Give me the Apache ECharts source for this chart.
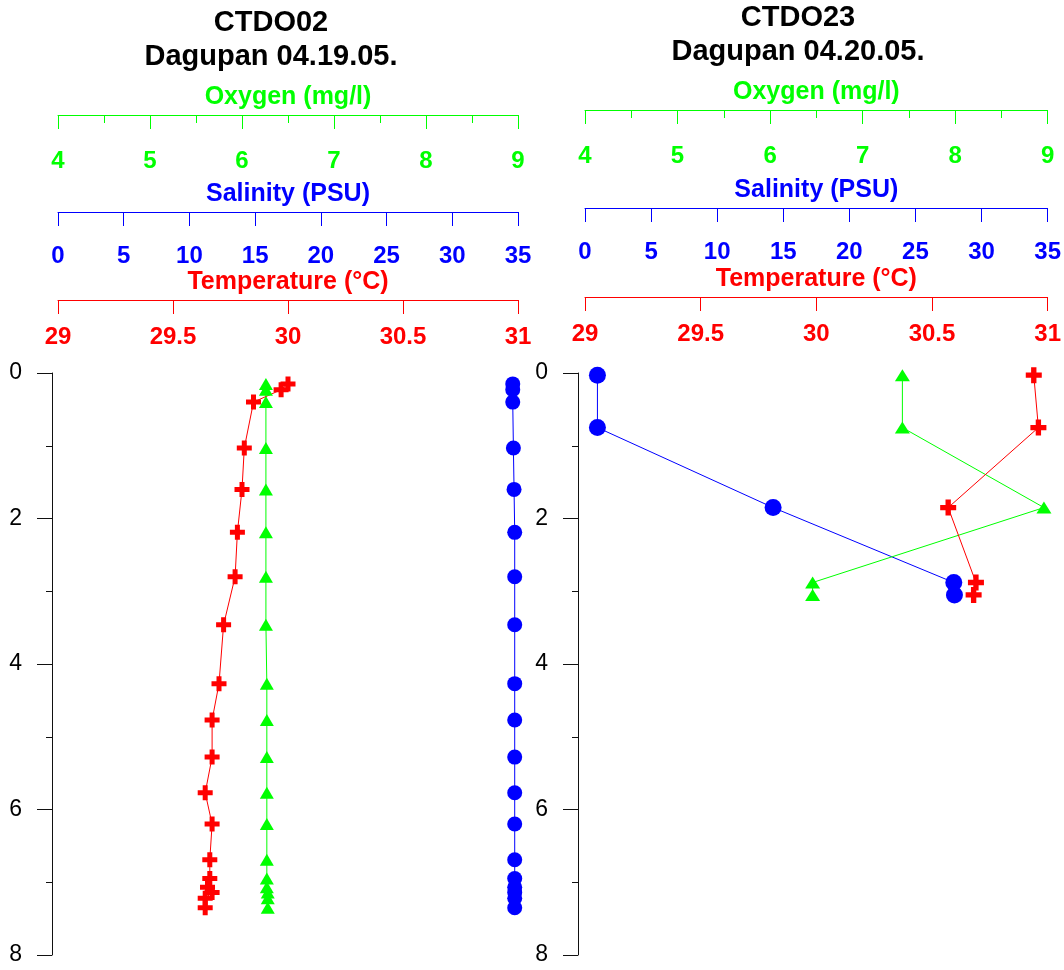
<!DOCTYPE html>
<html>
<head>
<meta charset="utf-8">
<script src="https://cdn.jsdelivr.net/npm/echarts@6/dist/echarts.min.js"></script>
<style>
html,body{margin:0;padding:0;background:#fff;}
#chart{width:1064px;height:970px;}
</style>
</head>
<body>
<div id="chart"></div>
<script>
// ---- Data: CTDO02 Dagupan 04.19.05. ----
const depthA = [0.15, 0.23, 0.4, 1.03, 1.6, 2.19, 2.8, 3.46, 4.27, 4.77, 5.28, 5.77, 6.2, 6.69, 6.95, 7.07, 7.14, 7.22, 7.35];
const tempA  = [30.0, 29.97, 29.85, 29.81, 29.80, 29.78, 29.77, 29.72, 29.70, 29.67, 29.67, 29.64, 29.67, 29.66, 29.66, 29.65, 29.67, 29.64, 29.64];
const oxyA   = [6.26, 6.26, 6.26, 6.26, 6.26, 6.26, 6.26, 6.26, 6.27, 6.27, 6.27, 6.27, 6.27, 6.27, 6.27, 6.27, 6.28, 6.28, 6.28];
const salA   = [34.6, 34.6, 34.6, 34.65, 34.7, 34.75, 34.75, 34.75, 34.75, 34.75, 34.75, 34.75, 34.75, 34.75, 34.75, 34.75, 34.75, 34.75, 34.75];

// ---- Data: CTDO23 Dagupan 04.20.05. ----
const depthB = [0.03, 0.75, 1.85, 2.88, 3.05];
const tempB  = [30.94, 30.96, 30.57, 30.69, 30.68];
const oxyB   = [7.43, 7.43, 8.96, 6.46, 6.46];
const salB   = [0.94, 0.94, 14.23, 27.9, 27.95];

// ---- Titles / axis names ----
const titlesA = ['CTDO02', 'Dagupan 04.19.05.'];
const titlesB = ['CTDO23', 'Dagupan 04.20.05.'];
const oxyName = 'Oxygen (mg/l)';
const salName = 'Salinity (PSU)';
const tempName = 'Temperature (\u00B0C)';

const GREEN = '#00ff00', BLUE = '#0000ff', RED = '#ff0000';
const FONT = '"Liberation Sans", Arial, Helvetica, sans-serif';
const CROSS = 'path://M3,0H6V3H9V6H6V9H3V6H0V3H3Z';

function xAxisDef(grid, name, color, min, max, interval, offset, minor, margin) {
  return {
    gridIndex: grid, type: 'value', position: 'top', offset: offset,
    min: min, max: max, interval: interval,
    name: name, nameLocation: 'middle', nameGap: 3,
    nameTextStyle: {color: color, fontSize: 25, fontWeight: 'bold', fontFamily: FONT},
    axisLine: {show: true, onZero: false, lineStyle: {color: color, width: 1}},
    axisTick: {show: true, inside: true, length: 14, lineStyle: {color: color, width: 1}},
    minorTick: {show: minor, splitNumber: 2, length: 8, lineStyle: {color: color, width: 1}},
    axisLabel: {inside: true, margin: margin, color: color, fontSize: 24, fontWeight: 'bold', fontFamily: FONT, showMinLabel: true, showMaxLabel: true},
    splitLine: {show: false}, minorSplitLine: {show: false}
  };
}
function yAxisDef(grid, offset) {
  return {
    gridIndex: grid, type: 'value', min: 0, max: 8, interval: 2, inverse: true,
    position: 'left', offset: offset,
    axisLine: {show: true, onZero: false, lineStyle: {color: '#111', width: 1}},
    axisTick: {show: true, length: 15, lineStyle: {color: '#111', width: 1}},
    minorTick: {show: true, splitNumber: 2, length: 6, lineStyle: {color: '#111', width: 1}},
    axisLabel: {margin: 30, color: '#000', fontSize: 23, fontFamily: FONT},
    splitLine: {show: false}
  };
}
function pairs(vals, depths) { return depths.map((d, i) => [vals[i], d]); }
function seriesDef(xi, yi, vals, depths, color, symbol, size) {
  return {
    type: 'line', xAxisIndex: xi, yAxisIndex: yi,
    data: pairs(vals, depths),
    symbol: symbol, symbolSize: size, showSymbol: true,
    lineStyle: {color: color, width: 1},
    itemStyle: {color: color, borderWidth: 0},
    emphasis: {disabled: true}, silent: true, animation: false
  };
}
function titleText(x, y, text) {
  return {type: 'text', x: x, y: y, style: {text: text, fill: '#000', font: 'bold 29px ' + FONT, textAlign: 'center', textVerticalAlign: 'middle'}};
}

const chart = echarts.init(document.getElementById('chart'), null, {renderer: 'canvas'});
chart.setOption({
  animation: false,
  backgroundColor: '#fff',
  grid: [
    {left: 58, right: 546, top: 373, bottom: 15, containLabel: false},
    {left: 585, right: 16, top: 373, bottom: 15, containLabel: false}
  ],
  xAxis: [
    xAxisDef(0, oxyName, GREEN, 4, 9, 1, 258, true, 34),
    xAxisDef(0, salName, BLUE, 0, 35, 5, 161, false, 32),
    xAxisDef(0, tempName, RED, 29, 31, 0.5, 73, false, 25),
    xAxisDef(1, oxyName, GREEN, 4, 9, 1, 263, true, 34),
    xAxisDef(1, salName, BLUE, 0, 35, 5, 165, false, 32),
    xAxisDef(1, tempName, RED, 29, 31, 0.5, 76, false, 25)
  ],
  yAxis: [yAxisDef(0, 6), yAxisDef(1, 7)],
  series: [
    seriesDef(1, 0, salA, depthA, BLUE, 'circle', 15),
    seriesDef(0, 0, oxyA, depthA, GREEN, 'triangle', [14, 12]),
    seriesDef(2, 0, tempA, depthA, RED, CROSS, 15),
    seriesDef(4, 1, salB, depthB, BLUE, 'circle', 17),
    seriesDef(3, 1, oxyB, depthB, GREEN, 'triangle', [15, 12]),
    seriesDef(5, 1, tempB, depthB, RED, CROSS, 16)
  ],
  graphic: [
    titleText(271, 23, titlesA[0]),
    titleText(271, 57, titlesA[1]),
    titleText(798, 18, titlesB[0]),
    titleText(798, 52, titlesB[1])
  ]
});
</script>
</body>
</html>
